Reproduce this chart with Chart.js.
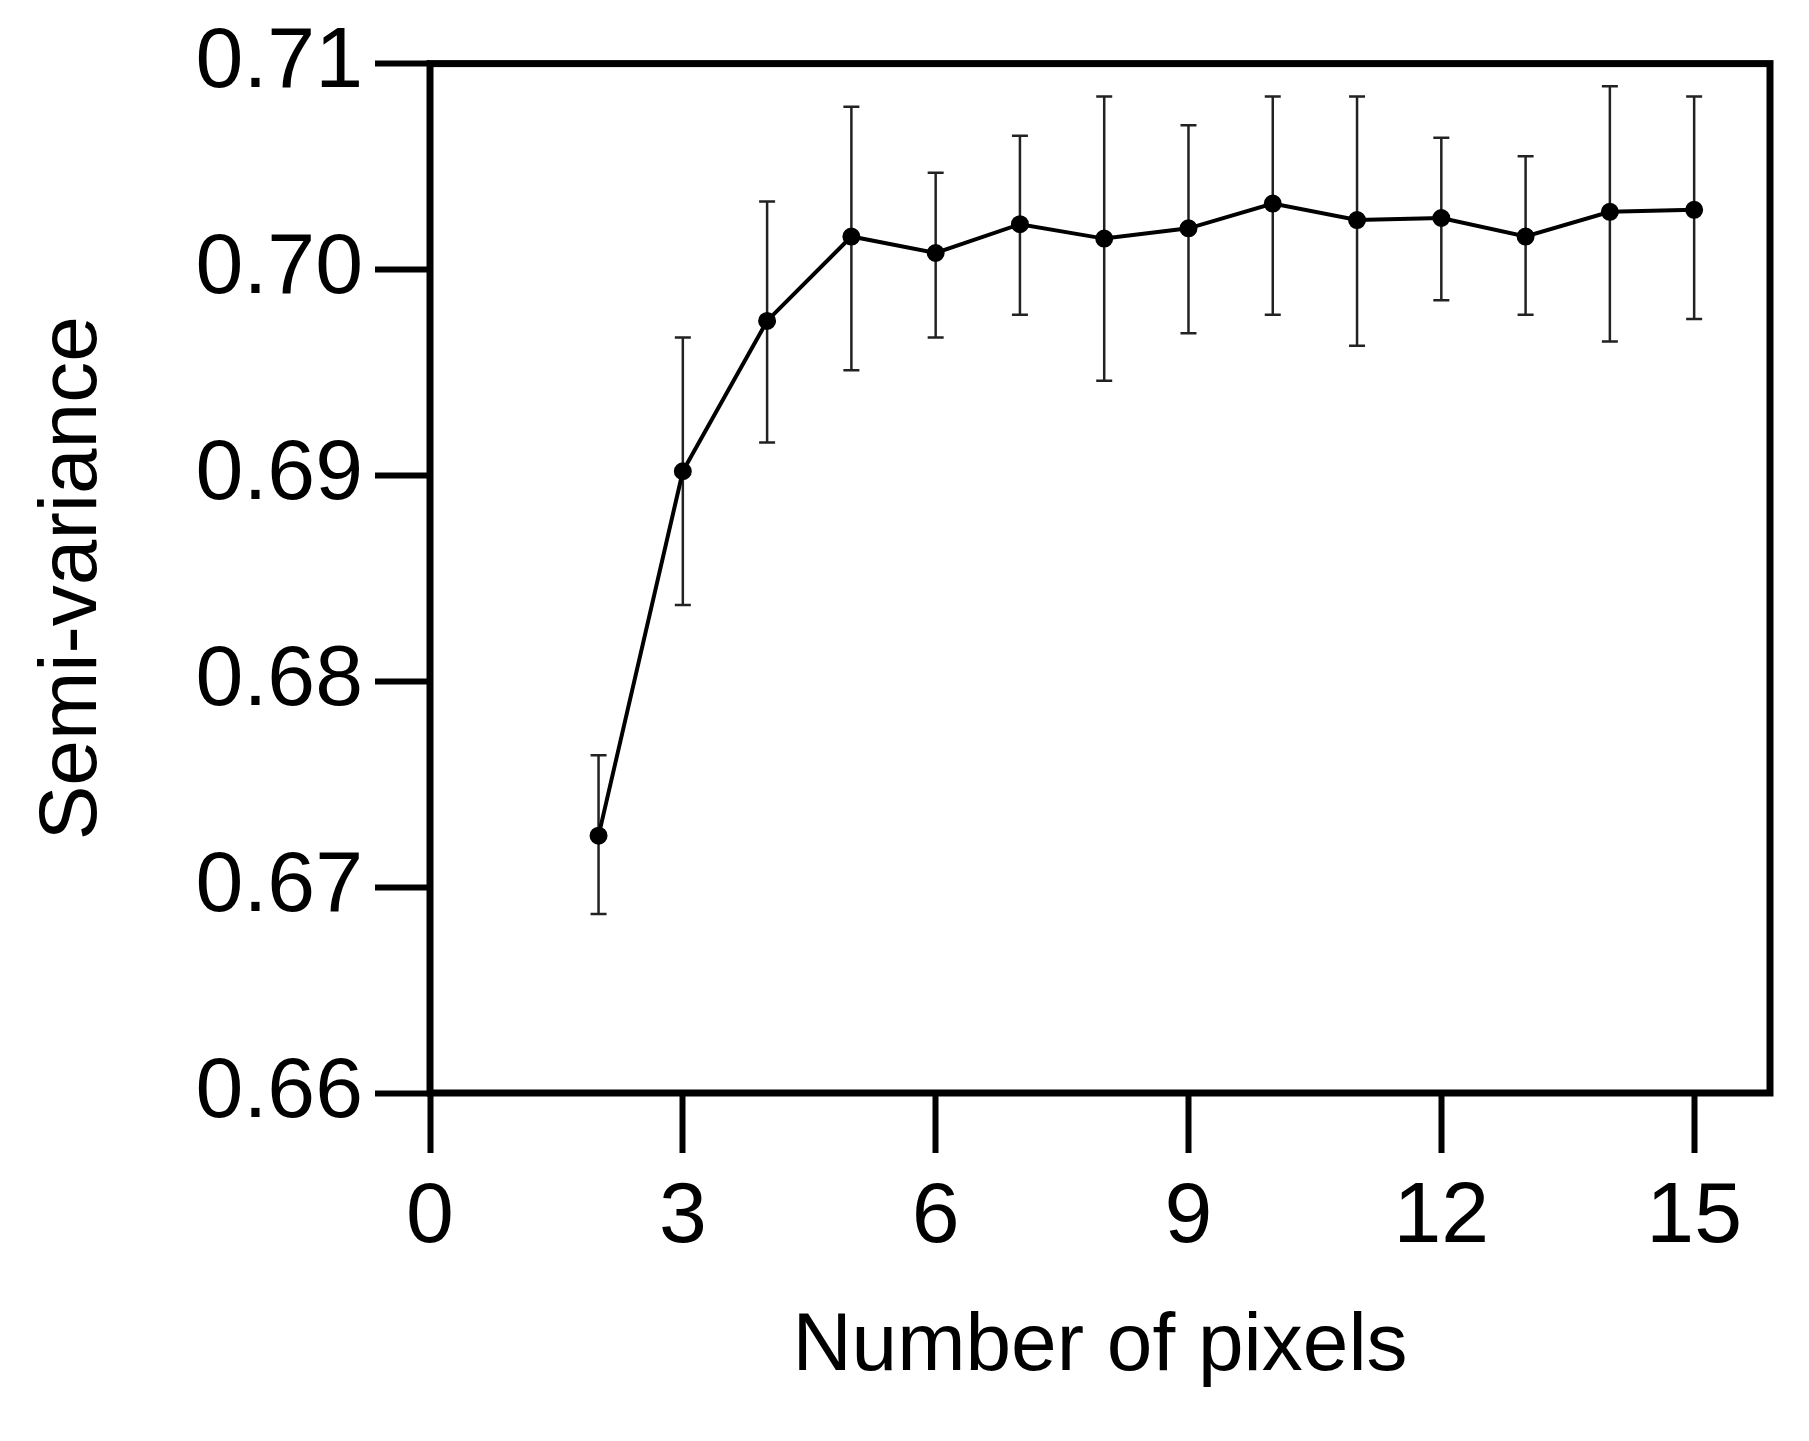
<!DOCTYPE html>
<html><head><meta charset="utf-8">
<script src="https://cdn.jsdelivr.net/npm/chart.js@4"></script>
<style>html,body{margin:0;padding:0;background:#fff}#w{width:1809px;height:1441px}</style>
</head><body><div id="w"><canvas id="c"></canvas></div>
<script>
const pixels = [2,3,4,5,6,7,8,9,10,11,12,13,14,15];
const semiVariance = [0.6725,0.6902,0.6975,0.7016,0.7008,0.7022,0.7015,0.7020,0.7032,0.7024,0.7025,0.7016,0.7028,0.7029];
const errUpper = [0.6764,0.6967,0.7033,0.7079,0.7047,0.7065,0.7084,0.7070,0.7084,0.7084,0.7064,0.7055,0.7089,0.7084];
const errLower = [0.6687,0.6837,0.6916,0.6951,0.6967,0.6978,0.6946,0.6969,0.6978,0.6963,0.6985,0.6978,0.6965,0.6976];
const xTicks = [0,3,6,9,12,15];
const yTicks = [0.66,0.67,0.68,0.69,0.70,0.71];

const errorBars = {
  id:'errorBars',
  beforeDatasetsDraw(chart){
    const {ctx, scales:{x,y}} = chart;
    ctx.save(); ctx.strokeStyle='#222'; ctx.lineWidth=2.5;
    pixels.forEach((p,i)=>{
      const px=x.getPixelForValue(p), t=y.getPixelForValue(errUpper[i]), b=y.getPixelForValue(errLower[i]);
      ctx.beginPath(); ctx.moveTo(px,t); ctx.lineTo(px,b);
      ctx.moveTo(px-8,t); ctx.lineTo(px+8,t); ctx.moveTo(px-8,b); ctx.lineTo(px+8,b); ctx.stroke();
    });
    ctx.restore();
  },
  afterDraw(chart){
    const {ctx, chartArea:a} = chart;
    ctx.save(); ctx.strokeStyle='#000'; ctx.lineWidth=7;
    ctx.strokeRect(a.left,a.top,a.right-a.left,a.bottom-a.top); ctx.restore();
  }
};

new Chart(document.getElementById('c'),{
  type:'line',
  data:{datasets:[{data:pixels.map((p,i)=>({x:p,y:semiVariance[i]})),borderColor:'#000',backgroundColor:'#000',borderWidth:4,pointRadius:7,tension:0}]},
  options:{responsive:true,maintainAspectRatio:false,animation:false,
    layout:{padding:{left:20,top:54,right:39,bottom:40}},
    plugins:{legend:{display:false},tooltip:{enabled:false}},
    scales:{
      x:{type:'linear',min:0,max:15.9,
        afterBuildTicks(s){s.ticks=xTicks.map(v=>({value:v}));},
        afterFit(s){s.height=1441-1093-40;},
        grid:{drawOnChartArea:false,tickLength:60,tickWidth:6,tickColor:'#000'},
        border:{display:false},
        ticks:{color:'#000',font:{family:'Liberation Sans',size:86},padding:14,maxRotation:0},
        title:{display:true,text:'Number of pixels',color:'#000',font:{family:'Liberation Sans',size:82},padding:{top:22}}
      },
      y:{min:0.66,max:0.71,
        afterBuildTicks(s){s.ticks=yTicks.map(v=>({value:v}));},
        afterFit(s){s.width=430-20;},
        grid:{drawOnChartArea:false,tickLength:55,tickWidth:6,tickColor:'#000'},
        border:{display:false},
        ticks:{color:'#000',font:{family:'Liberation Sans',size:86},padding:12,callback:v=>v.toFixed(2)},
        title:{display:true,text:'Semi-variance',color:'#000',font:{family:'Liberation Sans',size:82},padding:{bottom:4}}
      }
    }
  },
  plugins:[errorBars]
});
</script></body></html>
